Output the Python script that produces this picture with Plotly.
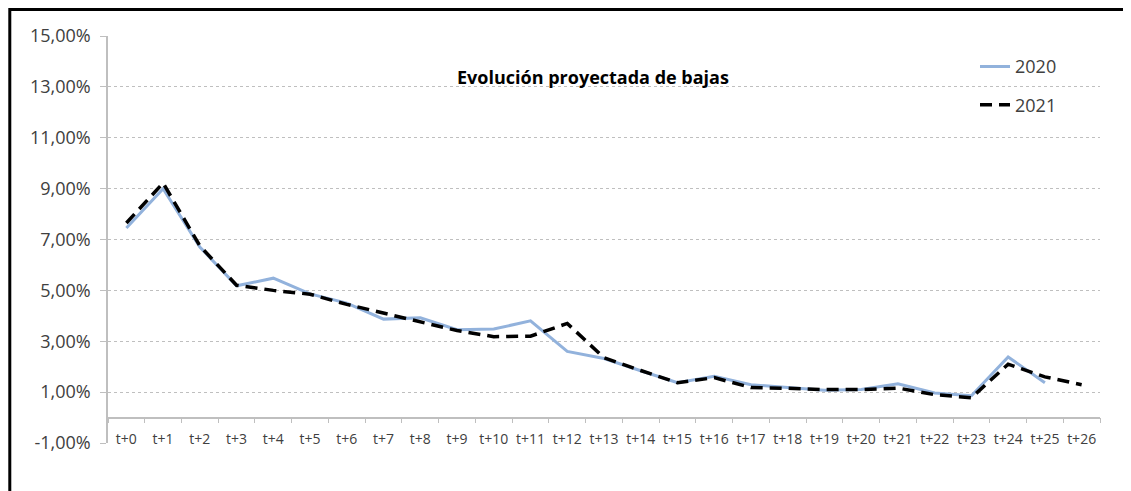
import plotly.graph_objects as go

# periods on the x axis
periods = [f"t+{i}" for i in range(27)]

# projected churn, %
bajas_2020 = [7.45, 9.0, 6.7, 5.18, 5.48, 4.86, 4.5, 3.87, 3.92, 3.45, 3.48, 3.8,
              2.6, 2.32, 1.84, 1.37, 1.62, 1.29, 1.18, 1.07, 1.1, 1.33, 0.97,
              0.86, 2.38, 1.37]
bajas_2021 = [7.65, 9.22, 6.75, 5.2, 5.0, 4.85, 4.45, 4.1, 3.74, 3.42, 3.18, 3.2,
              3.7, 2.35, 1.85, 1.37, 1.57, 1.18, 1.15, 1.1, 1.1, 1.16, 0.9,
              0.78, 2.1, 1.6, 1.29]

# y ticks (Excel style, comma decimals, plain hyphen)
y_ticks = [-1, 1, 3, 5, 7, 9, 11, 13, 15]
y_labels = ['-1,00%', '1,00%', '3,00%', '5,00%', '7,00%', '9,00%',
            '11,00%', '13,00%', '15,00%']

TEXT = '#404040'
GRID = '#bfbfbf'
FONT = 'Open Sans'

fig = go.Figure()

fig.add_trace(go.Scatter(
    x=periods[:len(bajas_2020)], y=bajas_2020,
    mode='lines', name='2020', legendgroup='a',
    line=dict(color='#92b2dc', width=3),
))
fig.add_trace(go.Scatter(
    x=periods, y=bajas_2021,
    mode='lines', name='2021', legendgroup='b',
    line=dict(color='#000000', width=3.5, dash='12px,7px'),
))

fig.add_annotation(
    text='<b>Evolución proyectada de bajas</b>',
    xref='paper', yref='paper', x=0.489, y=0.934,
    showarrow=False, font=dict(family=FONT, size=18, color='#000000'),
)

# chart frame
fig.add_shape(
    type='rect', xref='paper', yref='paper',
    x0=-0.099, x1=1.028, y0=-0.2, y1=1.065,
    line=dict(color='#000000', width=3),
)

# page body adds an 8px offset, so the figure is 16px smaller
fig.update_layout(
    width=1123, height=483,
    margin=dict(l=100, r=31, t=28, b=48),
    plot_bgcolor='white', paper_bgcolor='white',
    font=dict(family=FONT, size=15, color=TEXT),
    showlegend=True,
    legend=dict(
        x=0.874, y=0.97, xanchor='left', yanchor='top',
        font=dict(family=FONT, size=18, color=TEXT),
        tracegroupgap=12, bgcolor='rgba(0,0,0,0)',
    ),
    xaxis=dict(
        type='category', range=[-0.5, 26.5],
        anchor='free', position=1 / 16,
        showline=True, linecolor=GRID, linewidth=1.5,
        ticks='outside', tickson='boundaries', ticklen=5, tickcolor=GRID,
        ticklabelstandoff=9, tickangle=0,
        showgrid=False,
        tickfont=dict(family=FONT, size=14, color=TEXT),
    ),
    yaxis=dict(
        range=[-1, 15], tickvals=y_ticks, ticktext=y_labels,
        showline=True, linecolor=GRID, linewidth=1.5,
        ticks='outside', ticklen=6, tickcolor=GRID,
        ticklabelstandoff=6,
        showgrid=True, gridcolor=GRID, griddash='dot', gridwidth=1,
        zeroline=False,
        tickfont=dict(family=FONT, size=18, color=TEXT),
    ),
)

fig.write_html("out.html")
